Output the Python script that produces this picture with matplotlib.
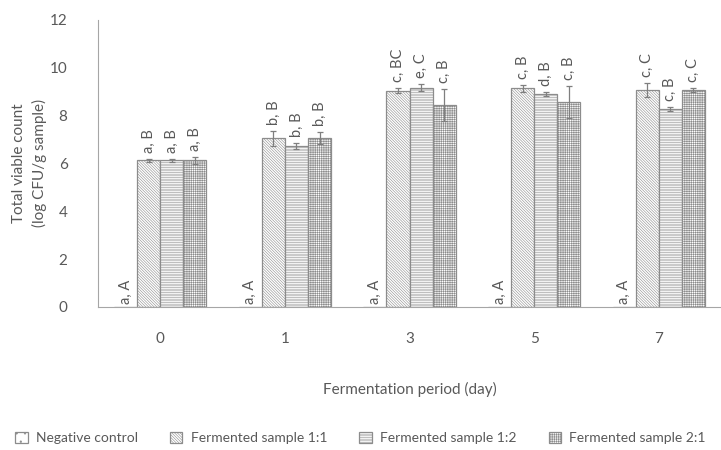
import matplotlib.pyplot as plt
import numpy as np

plt.rcParams['font.family'] = ['Lato', 'DejaVu Sans']
plt.rcParams['hatch.linewidth'] = 0.4

days = ['0', '1', '3', '5', '7']
series = ['Negative control', 'Fermented sample 1:1',
          'Fermented sample 1:2', 'Fermented sample 2:1']

# mean log CFU/g per day, one list per sample
neg_ctrl = [0, 0, 0, 0, 0]
ferm_11 = [6.12, 7.04, 9.03, 9.14, 9.06]
ferm_12 = [6.12, 6.73, 9.16, 8.90, 8.26]
ferm_21 = [6.12, 7.07, 8.44, 8.58, 9.07]

err_neg = [0, 0, 0, 0, 0]
err_11 = [0.05, 0.33, 0.10, 0.14, 0.29]
err_12 = [0.08, 0.13, 0.15, 0.09, 0.08]
err_21 = [0.14, 0.25, 0.65, 0.67, 0.10]

lab_neg = ['a, A', 'a, A', 'a, A', 'a, A', 'a, A']
lab_11 = ['a, B', 'b, B', 'c, BC', 'c, B', 'c, C']
lab_12 = ['a, B', 'b, B', 'e, C', 'd, B', 'c, B']
lab_21 = ['a, B', 'b, B', 'c, B', 'c, B', 'c, C']

values = [neg_ctrl, ferm_11, ferm_12, ferm_21]
errors = [err_neg, err_11, err_12, err_21]
labels = [lab_neg, lab_11, lab_12, lab_21]
hatches = ['..', '\\' * 12, '-' * 10, '+' * 9]

txt = '#595959'
edge = '#8c8c8c'

fig = plt.figure(figsize=(7.21, 4.5), dpi=100)
ax = fig.add_axes([0.136, 0.318, 0.864, 0.638])

x = np.arange(len(days))
w = 0.185
for i in range(4):
    pos = x + (i - 1.5) * w
    ax.bar(pos, values[i], width=w, color='white', edgecolor=edge,
           hatch=hatches[i], linewidth=0.9, label=series[i])
    if i > 0:
        ax.errorbar(pos, values[i], yerr=errors[i], fmt='none',
                    ecolor='#7f7f7f', elinewidth=0.9, capsize=2, capthick=0.9)
    for j in range(len(days)):
        if i == 0:
            y = 0.12
        else:
            y = values[i][j] + errors[i][j] + 0.25
        ax.text(pos[j], y, labels[i][j], rotation=90, ha='center',
                va='bottom', fontsize=10.5, color=txt)

ax.set_xlim(-0.5, 4.5)
ax.set_ylim(0, 12)
ax.set_yticks(range(0, 13, 2))
ax.set_xticks(x)
ax.set_xticklabels(days)
ax.tick_params(length=0, colors=txt, labelsize=11)
ax.tick_params(axis='y', pad=22)
ax.tick_params(axis='x', pad=18)
for s in ['top', 'right']:
    ax.spines[s].set_visible(False)
for s in ['left', 'bottom']:
    ax.spines[s].set_color('#a6a6a6')

ax.set_ylabel('Total viable count\n(log CFU/g sample)', color=txt,
              fontsize=11, labelpad=2, linespacing=1.5)
ax.set_xlabel('Fermentation period (day)', color=txt, fontsize=11,
              labelpad=26)

fig.legend(loc='lower center', bbox_to_anchor=(0.5, -0.015), ncol=4,
           frameon=False, fontsize=10, handlelength=0.9, handleheight=0.9,
           columnspacing=2.3, handletextpad=0.6, labelcolor=txt)

fig.savefig('out.png', dpi=100)
